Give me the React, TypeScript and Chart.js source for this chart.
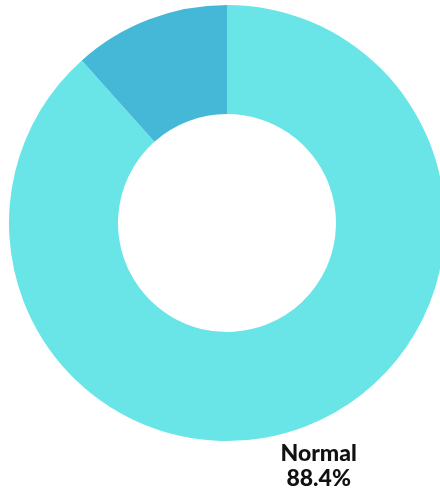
import React, { useEffect, useRef } from "react";
import { Chart, registerables } from "chart.js";

Chart.register(...registerables);

const categories = ["Normal", "Other"];
const values = [88.4, 11.6];
const colors = ["#69E5E8", "#44B8D6"];
const labeledIndex = [0];

const labelPlugin = {
  id: "outsideLabels",
  afterDatasetsDraw(chart: any) {
    const ctx = chart.ctx;
    const meta = chart.getDatasetMeta(0);
    ctx.save();
    ctx.fillStyle = "#111111";
    ctx.font = "900 23px Lato, 'Open Sans', sans-serif";
    ctx.textAlign = "center";
    ctx.textBaseline = "middle";
    labeledIndex.forEach((i) => {
      const arc: any = meta.data[i];
      const mid = (arc.startAngle + arc.endAngle) / 2;
      const r = arc.outerRadius + 42;
      const x = arc.x + Math.cos(mid) * r - 1;
      const y = arc.y + Math.sin(mid) * r;
      ctx.fillText(categories[i], x, y - 12);
      ctx.fillText(values[i].toFixed(1) + "%", x, y + 13);
    });
    ctx.restore();
  },
};

export default function App() {
  const ref = useRef<HTMLCanvasElement>(null);
  useEffect(() => {
    if (!ref.current) return;
    const chart = new Chart(ref.current, {
      type: "doughnut",
      data: {
        labels: categories,
        datasets: [
          {
            data: values,
            backgroundColor: colors,
            borderWidth: 0,
          },
        ],
      },
      options: {
        responsive: false,
        animation: false,
        cutout: "50%",
        layout: { padding: { top: 5, bottom: 51, left: 9, right: 9 } },
        plugins: {
          legend: { display: false },
          tooltip: { enabled: false },
        },
      },
      plugins: [labelPlugin],
    });
    return () => chart.destroy();
  }, []);
  return (
    <div
      style={{
        position: "absolute",
        left: 0,
        top: 0,
        width: 440,
        height: 492,
        overflow: "hidden",
        background: "#fff",
      }}
    >
      <canvas ref={ref} width={454} height={492} style={{ width: 454, height: 492 }} />
    </div>
  );
}
